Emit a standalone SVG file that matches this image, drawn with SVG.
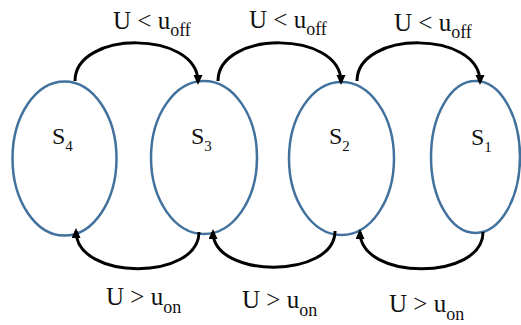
<svg xmlns="http://www.w3.org/2000/svg" width="521" height="325" viewBox="0 0 521 325">
<defs>
<style>
.st{fill:none;stroke:#41719C;stroke-width:2.5}
.lbl{font-family:"Liberation Serif","Times New Roman",serif;fill:#111;font-size:25px}
.sub{font-size:18px}
.nl{font-family:"Liberation Serif","Times New Roman",serif;fill:#111;font-size:24px}
.nsub{font-size:15px}
.cn{fill:none;stroke:#000;stroke-width:3;marker-end:url(#ah)}
</style>
<marker id="ah" markerUnits="userSpaceOnUse" markerWidth="12" markerHeight="10" refX="7" refY="4.5" orient="auto">
<path d="M0,0 L10,4.5 L0,9 z" fill="#000"/>
</marker>
</defs>
<rect width="521" height="325" fill="#fff"/>
<g id="S4"><ellipse class="st" cx="64.5" cy="158.5" rx="52" ry="77"/><text class="nl" x="52" y="144">S<tspan class="nsub" dy="7">4</tspan></text></g>
<g id="S3"><ellipse class="st" cx="204" cy="157.5" rx="53" ry="76.5"/><text class="nl" x="191" y="144">S<tspan class="nsub" dy="7">3</tspan></text></g>
<g id="S2"><ellipse class="st" cx="341.5" cy="158.5" rx="52.5" ry="76.5"/><text class="nl" x="329" y="144">S<tspan class="nsub" dy="7">2</tspan></text></g>
<g id="S1"><ellipse class="st" cx="475.5" cy="157" rx="44.5" ry="76"/><text class="nl" x="471" y="145">S<tspan class="nsub" dy="7">1</tspan></text></g>
<g id="connectors">
<path class="cn" d="M75,81 C75,30 198,30 198,82"/>
<path class="cn" d="M218,81 C218,30 341,30 341,82"/>
<path class="cn" d="M357,81 C357,30 480,30 480,82"/>
<path class="cn" d="M199,232 C199,281 76,281 76,231"/>
<path class="cn" d="M335,231 C335,279 213,279 213,232"/>
<path class="cn" d="M483,232 C483,281 360,281 360,232"/>
</g>
<g id="labels">
<text class="lbl" x="113" y="29">U &lt; u<tspan class="sub" dy="7">off</tspan></text>
<text class="lbl" x="249" y="28">U &lt; u<tspan class="sub" dy="7">off</tspan></text>
<text class="lbl" x="394" y="31">U &lt; u<tspan class="sub" dy="7">off</tspan></text>
<text class="lbl" x="106" y="305">U &gt; u<tspan class="sub" dy="8">on</tspan></text>
<text class="lbl" x="242" y="308">U &gt; u<tspan class="sub" dy="8">on</tspan></text>
<text class="lbl" x="389" y="312">U &gt; u<tspan class="sub" dy="8">on</tspan></text>
</g>
</svg>
